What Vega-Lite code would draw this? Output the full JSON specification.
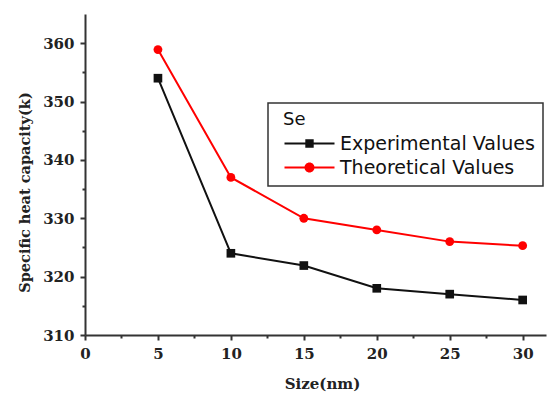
{
  "$schema": "https://vega.github.io/schema/vega-lite/v6.json",
  "width": 461,
  "height": 321,
  "autosize": {"type": "none"},
  "padding": {"left": 85, "top": 14, "right": 1, "bottom": 61},
  "background": "white",
  "config": {
    "view": {"stroke": null},
    "axis": {
      "grid": false,
      "domainColor": "#333",
      "domainWidth": 2,
      "tickColor": "#333",
      "tickWidth": 2,
      "labelFont": "DejaVu Serif",
      "labelFontWeight": "bold",
      "labelFontSize": 15,
      "labelColor": "#222",
      "labelPadding": 6,
      "labelOverlap": false,
      "labelFlush": false,
      "titleFont": "DejaVu Serif",
      "titleFontWeight": "bold",
      "titleColor": "#222"
    }
  },
  "data": {
    "values": [
      {"size": 5, "value": 354, "series": "Experimental Values"},
      {"size": 10, "value": 324, "series": "Experimental Values"},
      {"size": 15, "value": 321.9, "series": "Experimental Values"},
      {"size": 20, "value": 318, "series": "Experimental Values"},
      {"size": 25, "value": 317, "series": "Experimental Values"},
      {"size": 30, "value": 316, "series": "Experimental Values"},
      {"size": 5, "value": 358.9, "series": "Theoretical Values"},
      {"size": 10, "value": 337, "series": "Theoretical Values"},
      {"size": 15, "value": 330, "series": "Theoretical Values"},
      {"size": 20, "value": 328, "series": "Theoretical Values"},
      {"size": 25, "value": 326, "series": "Theoretical Values"},
      {"size": 30, "value": 325.3, "series": "Theoretical Values"}
    ]
  },
  "encoding": {
    "x": {
      "field": "size",
      "type": "quantitative",
      "scale": {"domain": [0, 31.6], "nice": false, "zero": false},
      "axis": {
        "title": "Size(nm)",
        "titleFontSize": 15,
        "titlePadding": 15,
        "titleX": 237,
        "values": [0, 2.5, 5, 7.5, 10, 12.5, 15, 17.5, 20, 22.5, 25, 27.5, 30],
        "labelExpr": "datum.value % 5 === 0 ? datum.label : ''",
        "tickSize": {"condition": {"test": "datum.value % 5 !== 0", "value": 3}, "value": 5}
      }
    },
    "y": {
      "field": "value",
      "type": "quantitative",
      "scale": {"domain": [310, 365], "nice": false, "zero": false},
      "axis": {
        "title": "Specific heat capacity(k)",
        "titleFontSize": 14.5,
        "titleX": -53,
        "titleY": 178,
        "values": [310, 315, 320, 325, 330, 335, 340, 345, 350, 355, 360],
        "labelExpr": "datum.value % 10 === 0 ? datum.label : ''",
        "tickSize": {"condition": {"test": "datum.value % 10 !== 0", "value": 3}, "value": 5}
      }
    }
  },
  "layer": [
    {
      "mark": {"type": "line", "strokeWidth": 2},
      "encoding": {
        "color": {
          "field": "series",
          "type": "nominal",
          "scale": {"domain": ["Experimental Values", "Theoretical Values"], "range": ["#111111", "#ff0000"]},
          "legend": {
            "title": "Se",
            "orient": "none",
            "legendX": 183,
            "legendY": 89,
            "direction": "vertical",
            "strokeColor": "#333",
            "padding": 8,
            "titleFont": "DejaVu Sans",
            "titleFontSize": 18,
            "titleFontWeight": "normal",
            "titleColor": "#111",
            "titlePadding": 5,
            "labelFont": "DejaVu Sans",
            "labelFontSize": 19,
            "labelColor": "#111",
            "labelLimit": 400,
            "rowPadding": 4,
            "symbolSize": 64,
            "symbolOffset": 24,
            "labelOffset": 21,
            "encode": {
              "legend": {"update": {"strokeWidth": {"value": 1.5}}},
              "title": {"update": {"dx": {"value": 7}}},
              "symbols": {
                "update": {
                  "shape": {"signal": "datum.value === 'Experimental Values' ? 'M-6.25,-0.25H6.25V0.25H-6.25ZM-1.05,-1.05H1.05V1.05H-1.05Z' : 'M-6.25,-0.25H6.25V0.25H-6.25ZM1.25,0A1.25,1.25,0,1,1,-1.25,0A1.25,1.25,0,1,1,1.25,0Z'"},
                  "size": {"value": 64},
                  "fill": {"signal": "datum.value === 'Experimental Values' ? '#111111' : '#ff0000'"},
                  "stroke": {"value": null},
                  "strokeWidth": {"value": 0},
                  "opacity": {"value": 1},
                  "fillOpacity": {"value": 1}
                }
              }
            }
          }
        }
      }
    },
    {
      "transform": [{"filter": "datum.series === 'Experimental Values'"}],
      "mark": {"type": "point", "filled": true, "opacity": 1, "size": 75, "shape": "square", "color": "#111111"}
    },
    {
      "transform": [{"filter": "datum.series === 'Theoretical Values'"}],
      "mark": {"type": "point", "filled": true, "opacity": 1, "size": 78, "shape": "circle", "color": "#ff0000"}
    }
  ]
}
